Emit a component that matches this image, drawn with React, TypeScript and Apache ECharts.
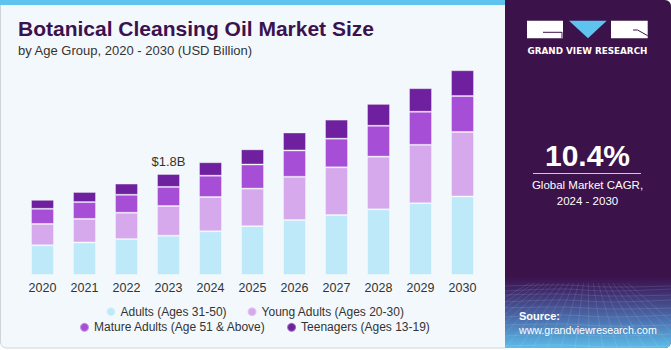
import React, { useEffect, useRef } from "react";
import * as echarts from "echarts";

const years = ["2020", "2021", "2022", "2023", "2024", "2025", "2026", "2027", "2028", "2029", "2030"];
const adults = [0.53, 0.58, 0.64, 0.7, 0.78, 0.87, 0.98, 1.07, 1.17, 1.28, 1.4];
const youngAdults = [0.38, 0.42, 0.47, 0.53, 0.61, 0.67, 0.77, 0.85, 0.94, 1.04, 1.15];
const matureAdults = [0.27, 0.3, 0.32, 0.34, 0.38, 0.43, 0.47, 0.51, 0.55, 0.59, 0.64];
const teenagers = [0.16, 0.18, 0.2, 0.23, 0.24, 0.27, 0.32, 0.34, 0.39, 0.42, 0.46];
const seriesNames = [
  "Adults (Ages 31-50)",
  "Young Adults (Ages 20-30)",
  "Mature Adults (Age 51 & Above)",
  "Teenagers (Ages 13-19)",
];
const annotatedYear = "2023";
const annotatedLabel = "$1.8B";
const titleText = "Botanical Cleansing Oil Market Size";
const subtitleText = "by Age Group, 2020 - 2030 (USD Billion)";
const cagrValue = "10.4%";
const cagrLabel = "Global Market CAGR,";
const cagrPeriod = "2024 - 2030";

const FONT = '"Liberation Sans", Arial, sans-serif';
const colors = ["#bde9f9", "#d5a9ec", "#a64fd6", "#6e209e"];

function meshLines() {
  const els: any[] = [];
  const x0 = 505, x1 = 671;
  const ys = [286, 290, 295, 301, 308, 316, 325, 335, 346];
  ys.forEach((y, i) => {
    els.push({
      type: "polyline",
      z: -5,
      silent: true,
      shape: { points: [[x0, y + (i % 2)], [560, y - 1], [610, y + 1], [x1, y - (i % 2)]], smooth: 0.4 },
      style: { stroke: "rgba(255,255,255,0.11)", lineWidth: 1, fill: null },
    });
  });
  for (let k = -6; k <= 14; k++) {
    const bx = x0 + k * 14;
    els.push({
      type: "line",
      z: -5,
      silent: true,
      shape: { x1: 588 + (bx - 588) * 0.35, y1: 283, x2: bx, y2: 348 },
      style: { stroke: "rgba(255,255,255,0.1)", lineWidth: 1 },
    });
  }
  return els;
}

export default function App() {
  const ref = useRef<HTMLDivElement>(null);

  useEffect(() => {
    if (!ref.current) return;
    const chart = echarts.init(ref.current, null, { renderer: "svg" });
    const values = [adults, youngAdults, matureAdults, teenagers];
    const series = values.map((arr, si) => ({
      name: seriesNames[si],
      type: "bar",
      stack: "total",
      barWidth: 23,
      itemStyle: { color: colors[si], borderColor: "rgba(255,255,255,0.35)", borderWidth: 1 },
      data: arr.map((v, i) =>
        si === values.length - 1 && years[i] === annotatedYear
          ? {
              value: v,
              label: {
                show: true,
                position: "top",
                distance: 6,
                formatter: annotatedLabel,
                fontSize: 13,
                fontFamily: FONT,
                color: "#333",
              },
            }
          : v
      ),
    }));

    const graphic: any[] = [
      {
        type: "rect",
        z: -10,
        silent: true,
        shape: { x: 0.5, y: 0, width: 505, height: 348, r: [0, 0, 0, 6] },
        style: { fill: "#f3f8fc", stroke: "#cdd5dc", lineWidth: 1 },
      },
      {
        type: "rect",
        z: -9,
        silent: true,
        shape: { x: 0, y: 0, width: 505, height: 5 },
        style: { fill: "#5ec3ee" },
      },
      {
        type: "rect",
        z: -8,
        silent: true,
        shape: { x: 505, y: 0, width: 166, height: 348, r: [0, 6, 6, 0] },
        style: { fill: "#3b1249" },
      },
      {
        type: "rect",
        z: -7,
        silent: true,
        shape: { x: 505, y: 276, width: 166, height: 72, r: [0, 0, 6, 0] },
        style: {
          fill: new echarts.graphic.LinearGradient(0, 0, 0, 1, [
            { offset: 0, color: "#3b1249" },
            { offset: 0.18, color: "#3e2668" },
            { offset: 0.6, color: "#4b6fae" },
            { offset: 1, color: "#5cbde9" },
          ]),
        },
      },
      ...meshLines(),
      { type: "rect", silent: true, shape: { x: 527, y: 20.7, width: 36, height: 17.6 }, style: { fill: "#ffffff" } },
      { type: "polyline", silent: true, shape: { points: [[543, 32.3], [562, 32.3], [562, 38.3]] }, style: { stroke: "#3b1249", lineWidth: 1, fill: null } },
      { type: "polygon", silent: true, shape: { points: [[569, 20.7], [606.7, 20.7], [588, 38.3]] }, style: { fill: "#5ec3ee" } },
      { type: "rect", silent: true, shape: { x: 611, y: 20.7, width: 36.7, height: 17.6 }, style: { fill: "#ffffff" } },
      { type: "polyline", silent: true, shape: { points: [[633, 30], [637.5, 30], [647.7, 35.7]] }, style: { stroke: "#3b1249", lineWidth: 1, fill: null } },
      {
        type: "text",
        silent: true,
        style: {
          text: "GRAND VIEW RESEARCH",
          x: 587.5,
          y: 50.7,
          align: "center",
          verticalAlign: "middle",
          fill: "#ffffff",
          fontSize: 8.8,
          fontWeight: "bold",
          fontFamily: '"DejaVu Sans", sans-serif',
        },
      },
      {
        type: "text",
        silent: true,
        style: {
          text: cagrValue,
          x: 587.5,
          y: 155,
          align: "center",
          verticalAlign: "middle",
          fill: "#ffffff",
          fontSize: 30,
          fontWeight: "bold",
          fontFamily: FONT,
        },
      },
      {
        type: "line",
        silent: true,
        shape: { x1: 533, y1: 173.5, x2: 641, y2: 173.5 },
        style: { stroke: "#cfc6db", lineWidth: 1 },
      },
      {
        type: "text",
        silent: true,
        style: {
          text: cagrLabel,
          x: 587.5,
          y: 185,
          align: "center",
          verticalAlign: "middle",
          fill: "#ffffff",
          fontSize: 11.5,
          fontFamily: FONT,
        },
      },
      {
        type: "text",
        silent: true,
        style: {
          text: cagrPeriod,
          x: 587.5,
          y: 200.7,
          align: "center",
          verticalAlign: "middle",
          fill: "#ffffff",
          fontSize: 11.5,
          fontFamily: FONT,
        },
      },
      {
        type: "text",
        silent: true,
        style: {
          text: "Source:",
          x: 519,
          y: 316,
          align: "left",
          verticalAlign: "middle",
          fill: "#ffffff",
          fontSize: 11,
          fontWeight: "bold",
          fontFamily: FONT,
        },
      },
      {
        type: "text",
        silent: true,
        style: {
          text: "www.grandviewresearch.com",
          x: 519,
          y: 330,
          align: "left",
          verticalAlign: "middle",
          fill: "#ffffff",
          fontSize: 10.6,
          fontFamily: FONT,
        },
      },
      {
        type: "text",
        silent: true,
        style: {
          text: titleText,
          x: 18,
          y: 28.5,
          align: "left",
          verticalAlign: "middle",
          fill: "#3b1250",
          fontSize: 21,
          fontWeight: "bold",
          fontFamily: FONT,
        },
      },
      {
        type: "text",
        silent: true,
        style: {
          text: subtitleText,
          x: 18,
          y: 50,
          align: "left",
          verticalAlign: "middle",
          fill: "#333333",
          fontSize: 13,
          fontFamily: FONT,
        },
      },
    ];

    const legendCommon = {
      icon: "circle",
      itemWidth: 9,
      itemHeight: 9,
      itemGap: 20,
      padding: 0,
      orient: "horizontal",
      textStyle: { fontSize: 12, fontFamily: FONT, color: "#333", lineHeight: 14 },
      selectedMode: false,
    };

    chart.setOption({
      animation: false,
      backgroundColor: "#ffffff",
      color: colors,
      graphic,
      legend: [
        { ...legendCommon, data: seriesNames.slice(0, 2), left: 105.5, top: 304.7 },
        { ...legendCommon, data: seriesNames.slice(2, 4), left: 79, top: 320.3 },
      ],
      grid: { left: 21.5, right: 187.5, top: 50.6, bottom: 75, containLabel: false },
      xAxis: {
        type: "category",
        data: years,
        axisLine: { show: false },
        axisTick: { show: false },
        axisLabel: { color: "#333", fontSize: 12.5, fontFamily: FONT, margin: 6 },
      },
      yAxis: {
        type: "value",
        min: 0,
        max: 4,
        show: false,
        splitLine: { show: false },
      },
      series,
    });
    return () => chart.dispose();
  }, []);

  return (
    <div
      ref={ref}
      style={{ position: "fixed", left: 0, top: 0, width: 671, height: 350 }}
    />
  );
}
